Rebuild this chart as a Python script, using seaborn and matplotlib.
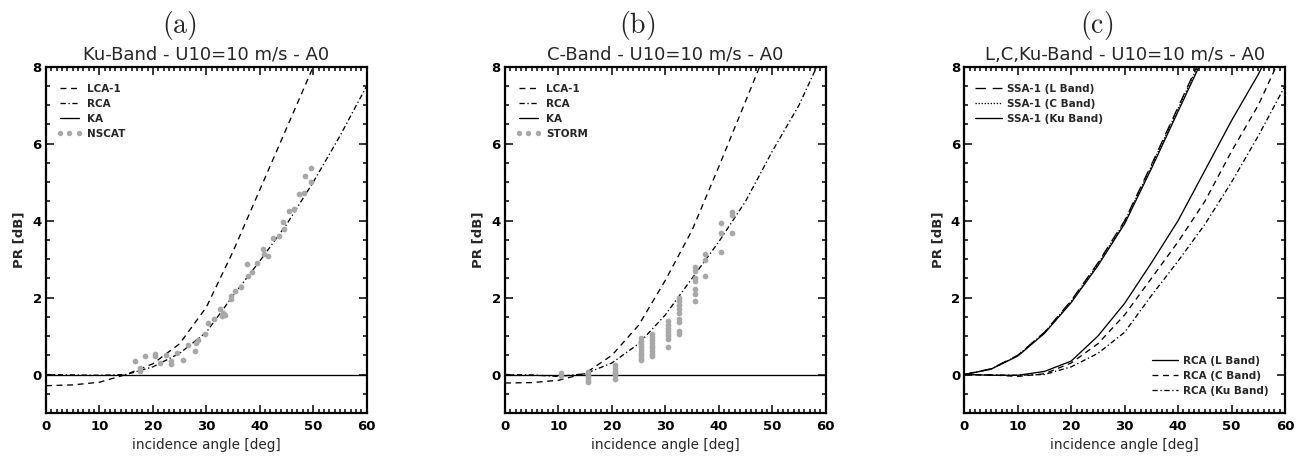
import numpy as np
import pandas as pd
import seaborn as sns
import matplotlib.pyplot as plt
from matplotlib.lines import Line2D
from matplotlib.ticker import MultipleLocator

# incidence angles of the model curves
ang = [0, 5, 10, 15, 20, 25, 30, 35, 40, 45, 50, 55, 60]
ang50 = [0, 5, 10, 15, 20, 25, 30, 35, 40, 45, 50]
ang45 = [0, 5, 10, 15, 20, 25, 30, 35, 40, 45]
ka = [0, 0, 0, 0, 0, 0, 0, 0, 0, 0, 0, 0, 0]

# (a) Ku band
lca_ku = [-0.29, -0.27, -0.20, 0.0, 0.28, 0.8, 1.75, 3.2, 4.8, 6.4, 8.0]
rca_ku = [0.0, -0.01, -0.02, 0.0, 0.2, 0.55, 1.1, 2.05, 2.95, 3.9, 5.0, 6.2, 7.5]
nscat_ang = [16.7, 17.6, 17.6, 18.6, 20.4, 20.4, 21.4, 22.5, 23.4, 23.4, 24.5, 25.6,
             26.5, 27.8, 28.1, 28.4, 29.7, 30.3, 31.5, 32.6, 33.1, 33.4, 32.9, 34.6,
             34.7, 35.4, 36.5, 37.6, 37.8, 38.6, 39.4, 40.6, 40.8, 41.5, 42.4, 43.6,
             44.4, 44.6, 45.4, 46.4, 47.4, 48.3, 48.5, 49.5, 49.5]
nscat_pr = [0.34, 0.17, 0.08, 0.47, 0.54, 0.47, 0.31, 0.5, 0.35, 0.27, 0.56, 0.37,
            0.77, 0.62, 0.83, 0.9, 1.06, 1.35, 1.45, 1.71, 1.6, 1.55, 1.52, 1.95,
            2.05, 2.16, 2.28, 2.86, 2.55, 2.66, 2.9, 3.25, 3.14, 3.08, 3.54, 3.6,
            3.97, 3.77, 4.26, 4.31, 4.69, 4.71, 5.16, 5.0, 5.38]

# (b) C band
lca_c = [-0.22, -0.21, -0.15, 0.03, 0.5, 1.28, 2.45, 3.75, 5.4, 7.1, 8.8]
rca_c = [0.0, -0.01, -0.05, 0.02, 0.3, 0.8, 1.55, 2.5, 3.45, 4.5, 5.8, 7.0, 8.5]
storm_ang = [10.5, 10.5,
             15.5, 15.5, 15.5, 15.5, 15.5,
             20.5, 20.5, 20.5, 20.5, 20.5, 20.5,
             25.5, 25.5, 25.5, 25.5, 25.5, 25.5, 25.5, 25.5, 25.5,
             27.5, 27.5, 27.5, 27.5, 27.5, 27.5, 27.5, 27.5, 27.5,
             30.5, 30.5, 30.5, 30.5, 30.5, 30.5, 30.5, 30.5,
             32.5, 32.5, 32.5, 32.5, 32.5, 32.5, 32.5, 32.5, 32.5,
             35.5, 35.5, 35.5, 35.5, 35.5, 35.5, 35.5,
             37.5, 37.5, 37.5,
             40.5, 40.5, 40.5,
             42.5, 42.5, 42.5]
storm_pr = [0.04, -0.04,
            0.07, 0.0, -0.07, -0.14, -0.2,
            0.25, 0.17, 0.1, 0.04, -0.02, -0.12,
            0.95, 0.88, 0.8, 0.72, 0.65, 0.57, 0.5, 0.43, 0.37,
            1.05, 0.97, 0.9, 0.82, 0.75, 0.68, 0.6, 0.53, 0.47,
            1.38, 1.3, 1.22, 1.14, 1.06, 0.99, 0.92, 0.71,
            2.0, 1.9, 1.8, 1.7, 1.6, 1.45, 1.37, 1.12, 1.05,
            2.8, 2.68, 2.52, 2.42, 2.22, 2.08, 1.92,
            3.13, 2.98, 2.57,
            3.93, 3.67, 3.19,
            4.23, 4.14, 3.69]

# (c) L, C, Ku band
ssa_l = [0.0, 0.15, 0.5, 1.1, 1.92, 2.9, 4.0, 5.45, 6.95, 8.45]
ssa_c = [0.0, 0.14, 0.49, 1.09, 1.9, 2.87, 3.97, 5.41, 6.91, 8.4]
ssa_ku = [0.0, 0.14, 0.48, 1.07, 1.87, 2.83, 3.92, 5.35, 6.84, 8.32]
rca_l = [0.0, -0.02, -0.02, 0.08, 0.35, 1.0, 1.85, 2.9, 4.0, 5.3, 6.6, 7.8, 9.2]

gray = '#a8a8a8'
lw = 0.95
DASH = (0, (4.5, 3.5))
DASHDOT = (0, (4, 2, 1, 2))
LONGDASH = (0, (8, 5))
DOT = (0, (1, 1.3))

sns.set_style('ticks')
plt.rcParams['font.family'] = ['DejaVu Sans']
plt.rcParams['mathtext.fontset'] = 'cm'

fig = plt.figure(figsize=(13.02, 4.57), dpi=100)
lefts = [46 / 1302, 505 / 1302, 964.3 / 1302]
axs = [fig.add_axes([l, 1 - 413 / 457, 320.7 / 1302, 346.3 / 457]) for l in lefts]

tickfont = {'family': 'DejaVu Sans', 'weight': 'bold', 'size': 9.5}
legfont = {'family': 'DejaVu Sans', 'weight': 'bold', 'size': 7.5}


def style_axes(ax, title):
    ax.set_xlim(0, 60)
    ax.set_ylim(-1, 8)
    ax.xaxis.set_major_locator(MultipleLocator(10))
    ax.xaxis.set_minor_locator(MultipleLocator(1))
    ax.yaxis.set_major_locator(MultipleLocator(2))
    ax.yaxis.set_minor_locator(MultipleLocator(0.5))
    ax.tick_params(which='both', direction='in', top=True, right=True, width=1.1, colors='k')
    ax.tick_params(which='major', length=6)
    ax.tick_params(which='minor', length=3)
    ax.tick_params(axis='x', pad=5)
    ax.tick_params(axis='y', pad=3)
    for lab in ax.get_xticklabels() + ax.get_yticklabels():
        lab.set_fontproperties(tickfont)
    for sp in ax.spines.values():
        sp.set_linewidth(1.6)
        sp.set_color('k')
    ax.set_title(title, fontsize=13, pad=5)
    ax.set_xlabel('incidence angle [deg]', fontsize=9.8, labelpad=4)
    ax.set_ylabel('PR [dB]', fontsize=9.5, fontweight='bold', labelpad=5)


def curve(ax, x, y, ls):
    sns.lineplot(x=x, y=y, ax=ax, color='k', lw=lw, linestyle=ls,
                 estimator=None, sort=False)


def model_legend(ax, labels, kind):
    h = [Line2D([], [], color='k', lw=lw, linestyle=DASH),
         Line2D([], [], color='k', lw=lw, linestyle=DASHDOT),
         Line2D([], [], color='k', lw=lw, linestyle='-'),
         Line2D([], [], color=gray, ls='none', marker='o', markersize=3.9,
                markeredgewidth=0)]
    ax.legend(h, labels + [kind], loc='upper left', bbox_to_anchor=(0.034, 0.95),
              frameon=False, prop=legfont, handlelength=2.4, handletextpad=0.5,
              labelspacing=0.48, borderpad=0, borderaxespad=0, numpoints=3)


# (a)
ax = axs[0]
curve(ax, ang, ka, '-')
curve(ax, ang50, lca_ku, DASH)
curve(ax, ang, rca_ku, DASHDOT)
sns.scatterplot(x=nscat_ang, y=nscat_pr, ax=ax, color=gray, s=17, linewidth=0, zorder=3)
style_axes(ax, 'Ku-Band - U10=10 m/s - A0')
model_legend(ax, ['LCA-1', 'RCA', 'KA'], 'NSCAT')

# (b)
ax = axs[1]
curve(ax, ang, ka, '-')
curve(ax, ang50, lca_c, DASH)
curve(ax, ang, rca_c, DASHDOT)
sns.scatterplot(x=storm_ang, y=storm_pr, ax=ax, color=gray, s=17, linewidth=0, zorder=3)
style_axes(ax, 'C-Band - U10=10 m/s - A0')
model_legend(ax, ['LCA-1', 'RCA', 'KA'], 'STORM')

# (c)
ax = axs[2]
curve(ax, ang45, ssa_l, LONGDASH)
curve(ax, ang45, ssa_c, DOT)
curve(ax, ang45, ssa_ku, '-')
curve(ax, ang, rca_l, '-')
curve(ax, ang, rca_c, DASH)
curve(ax, ang, rca_ku, DASHDOT)
style_axes(ax, 'L,C,Ku-Band - U10=10 m/s - A0')
h1 = [Line2D([], [], color='k', lw=lw, linestyle=LONGDASH),
      Line2D([], [], color='k', lw=lw, linestyle=DOT),
      Line2D([], [], color='k', lw=lw, linestyle='-')]
leg1 = ax.legend(h1, ['SSA-1 (L Band)', 'SSA-1 (C Band)', 'SSA-1 (Ku Band)'],
                 loc='upper left', bbox_to_anchor=(0.033, 0.95), frameon=False,
                 prop=legfont, handlelength=2.6, handletextpad=0.5,
                 labelspacing=0.48, borderpad=0, borderaxespad=0)
ax.add_artist(leg1)
h2 = [Line2D([], [], color='k', lw=lw, linestyle='-'),
      Line2D([], [], color='k', lw=lw, linestyle=DASH),
      Line2D([], [], color='k', lw=lw, linestyle=DASHDOT)]
ax.legend(h2, ['RCA (L Band)', 'RCA (C Band)', 'RCA (Ku Band)'],
          loc='lower right', bbox_to_anchor=(0.95, 0.05), frameon=False,
          prop=legfont, handlelength=2.5, handletextpad=0.5,
          labelspacing=0.48, borderpad=0, borderaxespad=0)

# panel letters
for x, letter in zip([179, 637.5, 1096.7], ['a', 'b', 'c']):
    fig.text(x / 1302, 1 - 25 / 457, r'$\mathrm{(%s)}$' % letter, fontsize=20,
             ha='center', va='center')

fig.savefig('out.png', dpi=100)
